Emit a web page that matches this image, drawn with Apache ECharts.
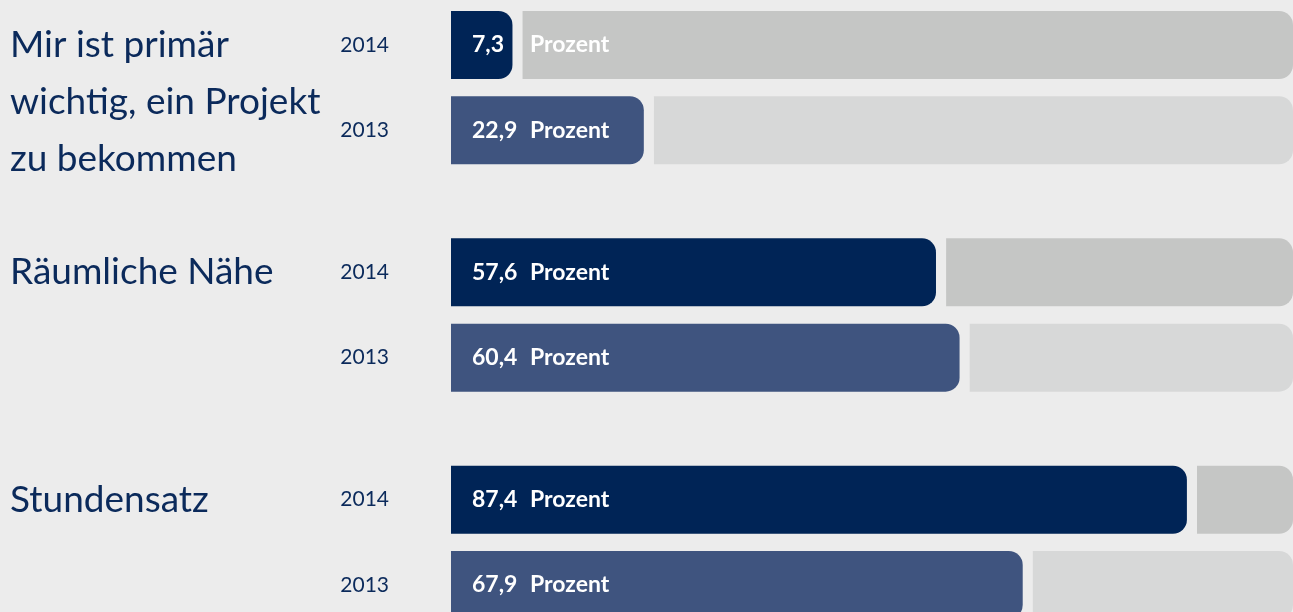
<!DOCTYPE html>
<html>
<head>
<meta charset="utf-8">
<script src="https://cdn.jsdelivr.net/npm/echarts@6/dist/echarts.min.js"></script>
<style>
  html, body { margin: 0; padding: 0; background: #ececec; }
  #chart { width: 1293px; height: 612px; }
</style>
</head>
<body>
<div id="chart"></div>
<script>
// data
var groupLines = [
    ['Mir ist primär', 'wichtig, ein Projekt', 'zu bekommen'],
    ['Räumliche Nähe'],
    ['Stundensatz']
];
var years = ['2014', '2013'];
var values2014 = [7.3, 57.6, 87.4];
var values2013 = [22.9, 60.4, 67.9];

// layout: a category axis with blank slots gives the uneven row spacing
var slotCount = 20;
var groupSlot = [0, 8, 16];
var yearOffset = [0, 3];
var gap = 1.2; // space between coloured bar and grey rest, in percent

var navy = '#002456';
var blue = '#3f547f';
var greyDark = '#c5c6c5';
var greyLight = '#d7d8d8';
var textNavy = '#0b2a5b';

var cats = [];
var yearLabel = [];
var groupLabel = [];
var s2014 = [], s2013 = [], sGap = [], sRest = [];
for (var i = 0; i < slotCount; i++) {
    cats.push('s' + i);
    yearLabel.push('');
    groupLabel.push('');
    s2014.push('-'); s2013.push('-'); sGap.push('-'); sRest.push('-');
}
groupSlot.forEach(function (g, gi) {
    groupLines[gi].forEach(function (line, li) {
        groupLabel[g + li * 2] = line;
    });
    [values2014[gi], values2013[gi]].forEach(function (v, yi) {
        var slot = g + yearOffset[yi];
        yearLabel[slot] = years[yi];
        if (yi === 0) s2014[slot] = v; else s2013[slot] = v;
        sGap[slot] = gap;
        sRest[slot] = {
            value: +(100 - v - gap).toFixed(2),
            itemStyle: { color: yi === 0 ? greyDark : greyLight }
        };
    });
});

var dom = document.getElementById('chart');
var myChart = echarts.init(dom);

var barLabel = {
    show: true,
    position: 'insideLeft',
    distance: 21,
    formatter: function (p) {
        return '{v|' + String(p.value).replace('.', ',') + '}{p|Prozent}';
    },
    rich: {
        v: { color: '#fff', fontFamily: 'Lato', fontWeight: 'bold', fontSize: 23, width: 58 },
        p: { color: '#fff', fontFamily: 'Lato', fontWeight: 'bold', fontSize: 23 }
    }
};

var option = {
    backgroundColor: '#ececec',
    animation: false,
    grid: { left: 451, right: -1, top: 30.8, bottom: 12.8, containLabel: false },
    xAxis: {
        type: 'value', min: 0, max: 100, show: false
    },
    yAxis: [{
        type: 'category',
        data: cats,
        inverse: true,
        axisLine: { show: false },
        axisTick: { show: false },
        axisLabel: {
            interval: 0,
            margin: 62,
            color: textNavy,
            fontFamily: 'Lato',
            fontSize: 21,
            formatter: function (v, idx) { return yearLabel[idx]; }
        }
    }, {
        type: 'category',
        data: cats,
        inverse: true,
        position: 'left',
        axisLine: { show: false },
        axisTick: { show: false },
        axisLabel: {
            interval: 0,
            hideOverlap: false,
            margin: 441,
            align: 'left',
            color: textNavy,
            fontFamily: 'Lato',
            fontSize: 37,
            formatter: function (v, idx) { return groupLabel[idx]; }
        }
    }],
    series: [{
        name: '2014', type: 'bar', stack: 'total', barWidth: 68, clip: false,
        itemStyle: { color: navy, borderRadius: [0, 14, 14, 0] },
        label: barLabel,
        data: s2014
    }, {
        name: '2013', type: 'bar', stack: 'total', barWidth: 68, clip: false,
        itemStyle: { color: blue, borderRadius: [0, 14, 14, 0] },
        label: barLabel,
        data: s2013
    }, {
        name: 'gap', type: 'bar', stack: 'total', barWidth: 68, clip: false,
        itemStyle: { color: 'rgba(0,0,0,0)' },
        silent: true,
        data: sGap
    }, {
        name: 'rest', type: 'bar', stack: 'total', barWidth: 68, clip: false,
        itemStyle: { borderRadius: [0, 14, 14, 0] },
        data: sRest
    }]
};
if (option && typeof option === 'object') {
    myChart.setOption(option, true);
}
</script>
</body>
</html>
